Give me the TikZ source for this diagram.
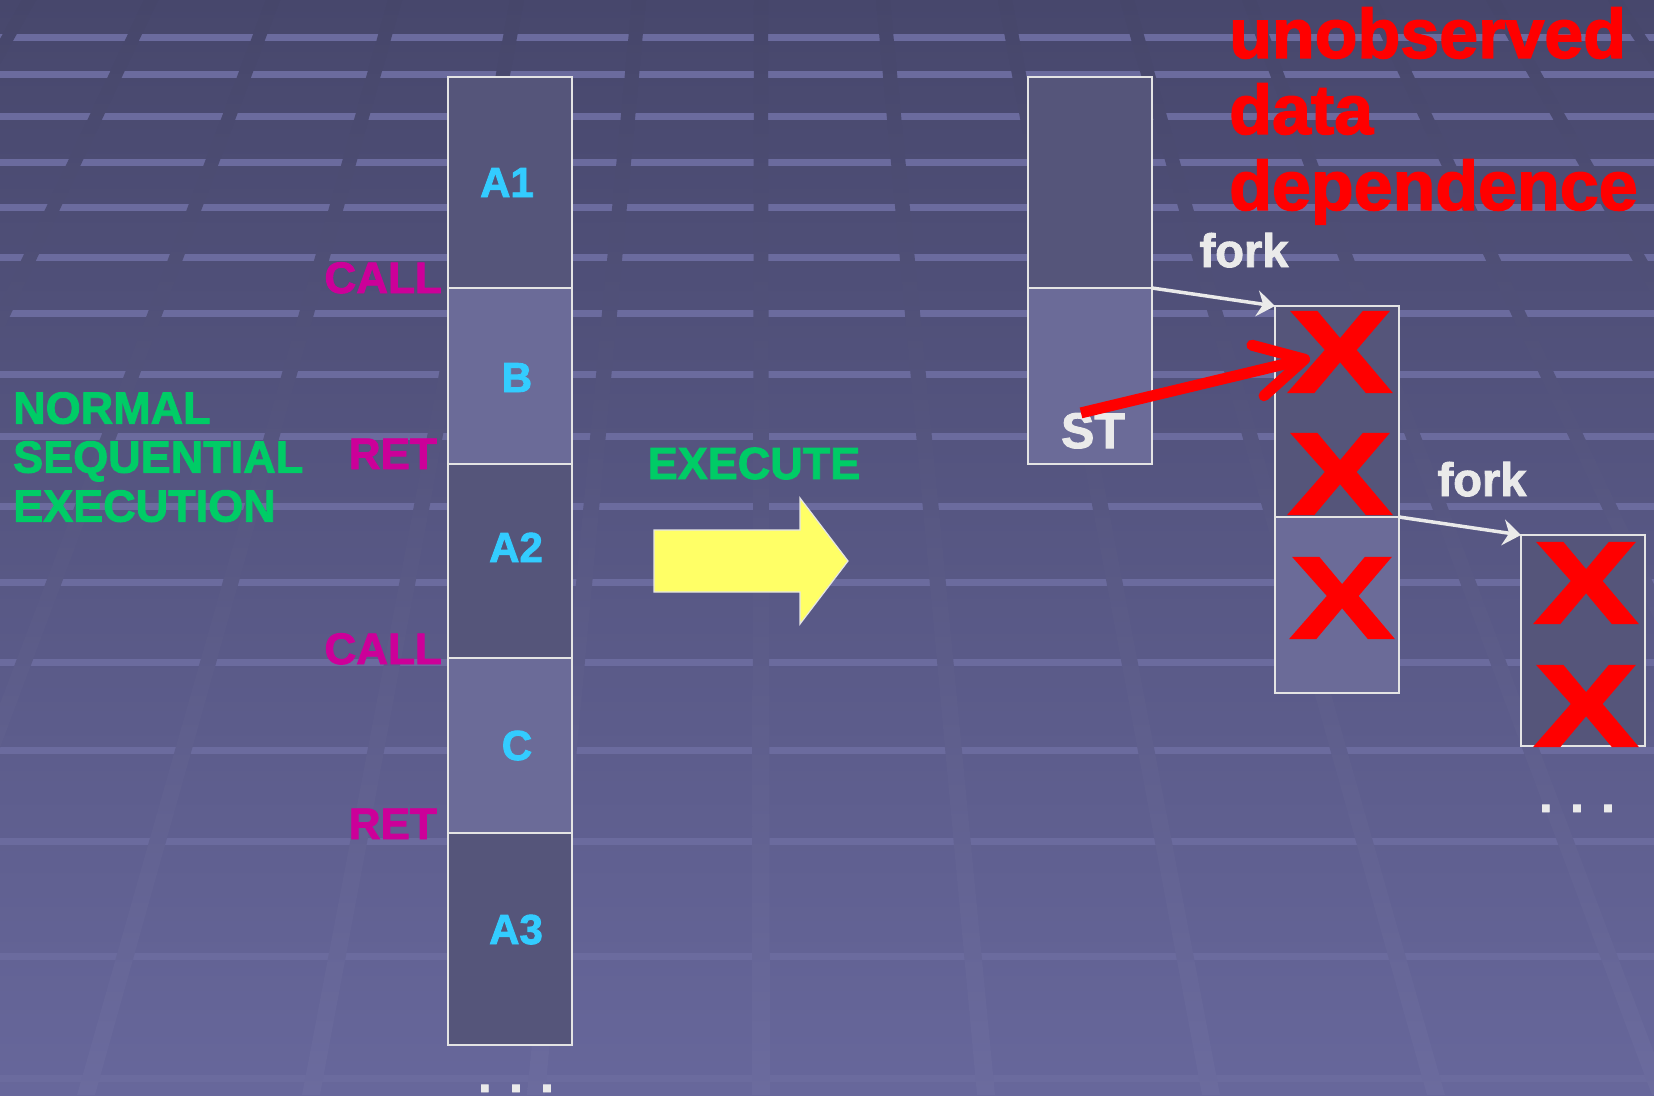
\documentclass[tikz,border=0pt]{standalone}
\usepackage{fontspec}
\setmainfont{Liberation Sans}[BoldFeatures={FakeBold=2}]
\usetikzlibrary{arrows.meta}
\definecolor{bgtop}{HTML}{47476C}
\definecolor{bgbot}{HTML}{67679B}
\definecolor{lntop}{HTML}{46466A}
\definecolor{lnbot}{HTML}{6B6B9E}
\definecolor{stripec}{HTML}{6B6B9E}
\definecolor{dkfill}{HTML}{55557A}
\definecolor{ltfill}{HTML}{6B6B98}
\definecolor{edgec}{HTML}{E4E4E4}
\definecolor{cyanc}{HTML}{33CCFF}
\definecolor{callc}{HTML}{CC0099}
\definecolor{greenc}{HTML}{00CC66}
\definecolor{yellc}{HTML}{FFFF66}
\definecolor{whitec}{HTML}{EAEAEA}
\newcommand{\fsz}[1]{\bfseries\fontsize{#1}{#1}\selectfont}
\tikzset{
  blk/.style={draw=edgec,line width=2.5pt,minimum width=124pt,inner sep=0pt,outer sep=0pt,anchor=north west},
  dk/.style={blk,fill=dkfill},
  lt/.style={blk,fill=ltfill},
  blab/.style={text=cyanc,font=\fsz{42},anchor=base,inner sep=0pt},
  jlab/.style={text=callc,font=\fsz{44},anchor=base east,inner sep=0pt},
  glab/.style={text=greenc,inner sep=0pt},
  wlab/.style={text=whitec,font=\fsz{47},anchor=base,inner sep=0pt},
  bigx/.style={text=red,font=\fsz{116},inner sep=0pt},
  forkarr/.style={draw=whitec,line width=3.5pt,-{Stealth[length=18pt,width=26pt,inset=6pt]}},
  deparr/.style={draw=red,line width=11pt,-{Straight Barb[length=48pt,width=52pt,round]}}
}

\begin{document}
\begin{tikzpicture}[x=1pt,y=-1pt]
\useasboundingbox (0,0) rectangle (1654,1095);
\clip (0,0) rectangle (1654,1095);
\shade[top color=bgtop,bottom color=bgbot] (0,0) rectangle (1654,1095);
\foreach \y in {37,74,116,162,207,257,313,374,436,506,582,662,750,841,956,1078}
  \fill[stripec] (0,\y-3) rectangle (1654,\y+4);
\foreach \k [evaluate=\k as \xt using 761+122*\k, evaluate=\k as \xb using 761+225*\k] in {-6,...,7}
  \shade[top color=lntop,bottom color=lnbot] (\xt-7,0) -- (\xt+7,0) -- (\xb+9,1095) -- (\xb-9,1095) -- cycle;

\node[dk,minimum height=211pt] (a1) at (448,77) {};
\node[lt,minimum height=176pt] (b) at (448,288) {};
\node[dk,minimum height=194pt] (a2) at (448,464) {};
\node[lt,minimum height=175pt] (c) at (448,658) {};
\node[dk,minimum height=212pt] (a3) at (448,833) {};
\node[blab] (labA1) at (507,197) {A1};
\node[blab] (labB) at (517,392) {B};
\node[blab] (labA2) at (516,562) {A2};
\node[blab] (labC) at (517,760) {C};
\node[blab] (labA3) at (516,944) {A3};
\node[jlab] (call1) at (442,293) {CALL};
\node[jlab] (ret1) at (437,469) {RET};
\node[jlab] (call2) at (442,664) {CALL};
\node[jlab] (ret2) at (437,839) {RET};
\node[wlab,font=\fsz{48}] (moreL) at (516,1092) {. . .};

\node[glab,font={\bfseries\fontsize{45}{49}\selectfont},anchor=north west,align=left] (normal) at (13,392) {NORMAL\\SEQUENTIAL\\EXECUTION};
\node[glab,font=\fsz{45},anchor=base] (execlab) at (754,479) {EXECUTE};
\filldraw[fill=yellc,draw=edgec,line width=1.2pt] (654,530) -- (800,530) -- (800,498) -- (848,561) -- (800,624) -- (800,592) -- (654,592) -- cycle;

\node[dk,minimum height=211pt] (sthi) at (1028,77) {};
\node[lt,minimum height=176pt] (stlo) at (1028,288) {};
\node[dk,minimum height=211pt] (midhi) at (1275,306) {};
\node[lt,minimum height=176pt] (midlo) at (1275,517) {};
\node[dk,minimum height=211pt] (thirdblk) at (1521,535) {};
\node[wlab,font=\fsz{50}] (st) at (1093,448) {ST};
\node[bigx] (x1) at (1340,352) {\scalebox{1.33}[1]{X}};
\node[bigx] (x2) at (1340,474) {\scalebox{1.33}[1]{X}};
\node[bigx] (x3) at (1342,598) {\scalebox{1.33}[1]{X}};
\node[bigx] (x4) at (1586,583) {\scalebox{1.33}[1]{X}};
\node[bigx] (x5) at (1586,706) {\scalebox{1.33}[1]{X}};
\node[wlab,font=\fsz{48}] (moreR) at (1577,812) {. . .};

\draw[forkarr] (stlo.north east) -- (midhi.north west);
\draw[forkarr] (midlo.north east) -- (thirdblk.north west);
\node[wlab] (fork1) at (1244,267) {fork};
\node[wlab] (fork2) at (1482,496) {fork};
\draw[deparr] ([xshift=-12pt]st.north) -- ([shift={(-30,6)}]x1.center);

\node[text=red,font={\bfseries\fontsize{70}{76}\selectfont},anchor=north west,align=left,inner sep=0pt] (unobs) at (1229,7) {unobserved\\data\\dependence};
\end{tikzpicture}
\end{document}
